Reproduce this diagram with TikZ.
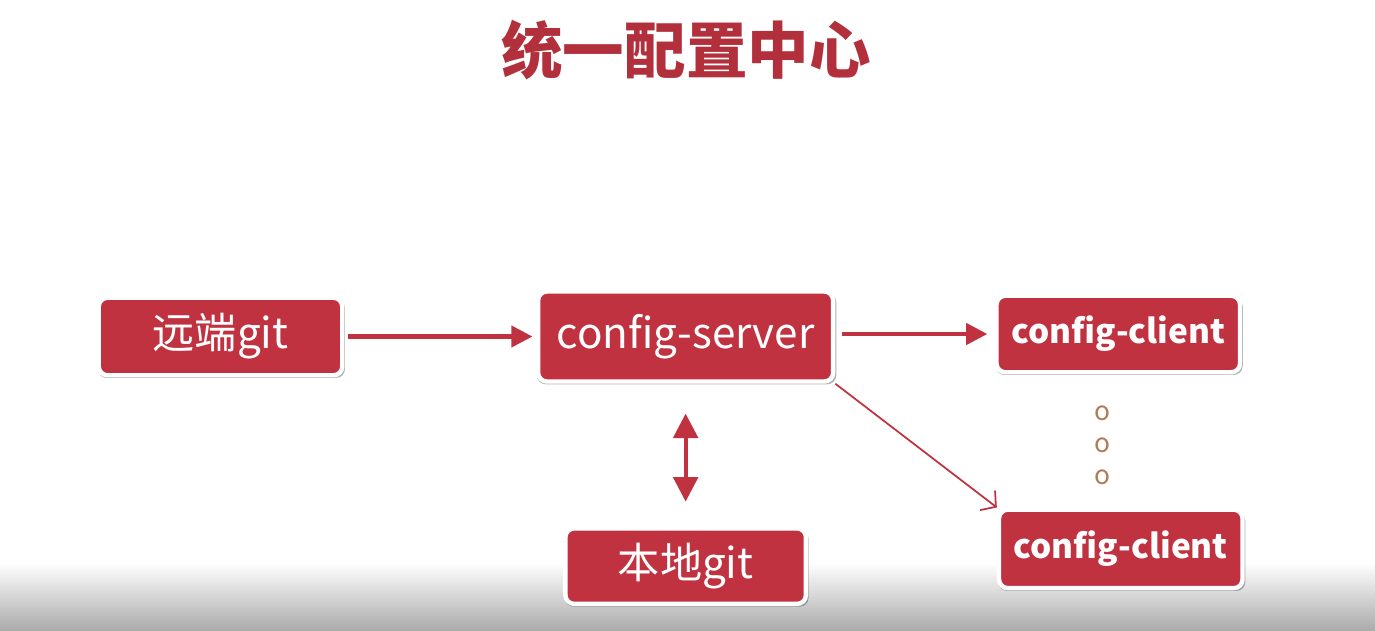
\documentclass[tikz,border=0pt]{standalone}
\usepackage{fontspec}
\setmainfont{Noto Sans CJK SC}
\usepackage{xcolor}
\usetikzlibrary{arrows.meta, positioning, shadows}

\definecolor{boxred}{RGB}{192,50,64}
\definecolor{titlered}{RGB}{178,48,60}
\definecolor{dotbrown}{RGB}{176,125,90}

\tikzset{
  redbox/.style={fill=boxred, draw=white, line width=2.5pt, rounded corners=5pt, text=white, inner sep=0pt,
    general shadow={fill=black, opacity=0.3, shadow scale=1.015, shadow xshift=0.5pt, shadow yshift=-1.2pt}},
  clientbox/.style={redbox, minimum width=4.87cm, font=\fontsize{19}{22}\selectfont\bfseries},
  dotmark/.style={text=dotbrown, font=\fontsize{15}{18}\selectfont},
  flow/.style={draw=boxred, line width=2.3pt, -{Triangle[length=12pt,width=12pt]}}
}

\begin{document}
\begin{tikzpicture}[node distance=4cm, font=\fontsize{24}{28}\selectfont]
        \useasboundingbox (0,0) rectangle (27.5,-12.6);
        \shade [top color=white, bottom color=black!33] (0,-11.26) rectangle (27.5,-12.6);

        \node [text=titlered, font=\fontsize{35}{40}\selectfont\bfseries] (title) at (13.72,-1.0) {统一配置中心};

        \node [redbox, minimum width=4.87cm, minimum height=1.55cm] (remote) at (4.41,-6.73) {远端git};
        \node [redbox, minimum width=5.9cm, minimum height=1.8cm] (server) [right=3.83cm of remote] {config-server};
        \node [clientbox, minimum height=1.53cm] (client1) [right=3.18cm of server, yshift=0.05cm] {config-client};
        \node [clientbox, minimum height=1.57cm] (client2) [below=2.66cm of client1, xshift=0.05cm] {config-client};
        \node [redbox, minimum width=4.81cm, minimum height=1.51cm] (local) [below=2.85cm of server] {本地git};

        \node [dotmark] (dot1) at (22.04,-8.26) {o};
        \node [dotmark] (dot2) at (22.04,-8.9) {o};
        \node [dotmark] (dot3) at (22.04,-9.54) {o};

        \draw [flow, shorten <=2pt, shorten >=2pt] (remote) -- (server);
        \draw [flow, shorten <=4pt, shorten >=4pt] (server.east |- client1) -- (client1);
        \draw [flow, {Triangle[length=14pt,width=14pt]}-{Triangle[length=14pt,width=14pt]}, shorten <=17pt, shorten >=14pt] (server) -- (local);
        \draw [boxred, line width=1pt, -{Straight Barb[length=6pt,width=14pt]}] (server.south east) -- (client2.north west);
    \end{tikzpicture}
\end{document}
